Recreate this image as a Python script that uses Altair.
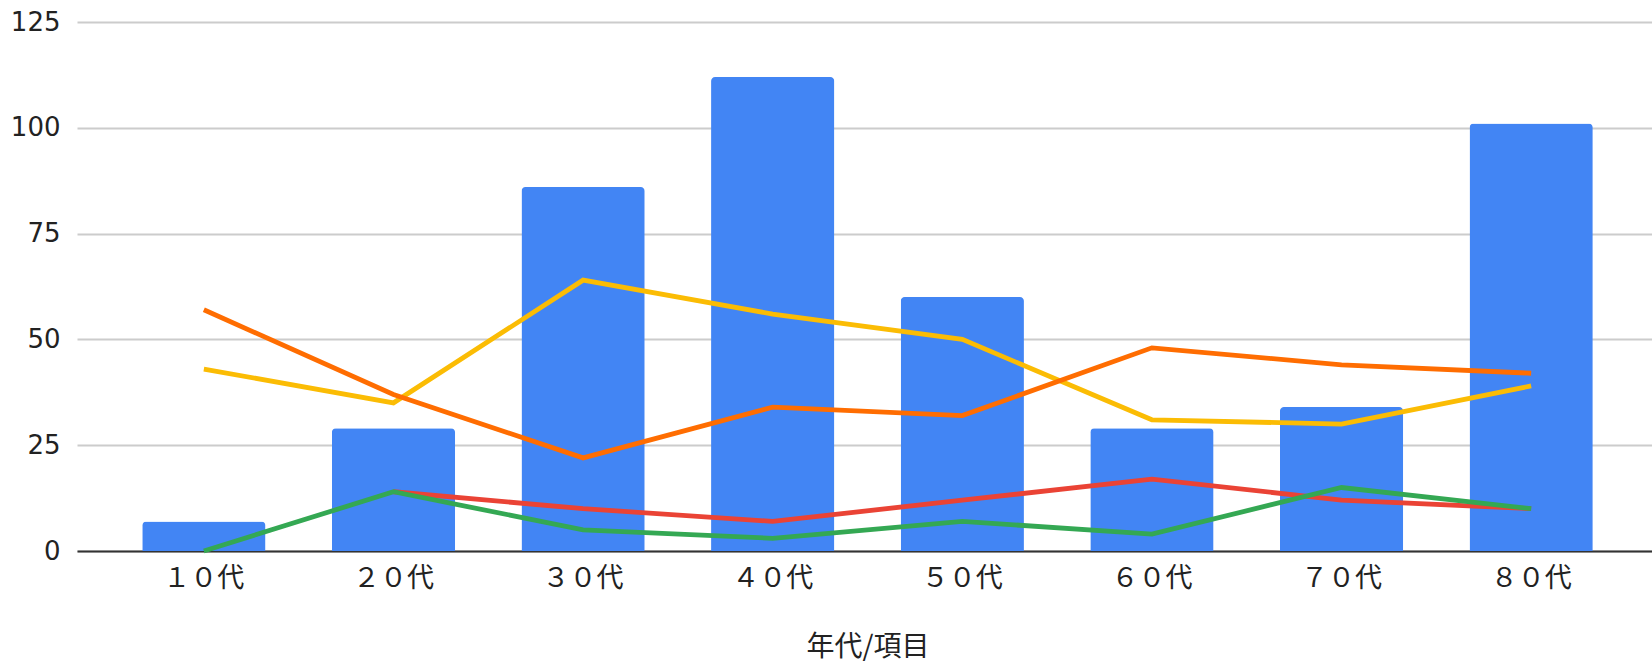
import altair as alt
import pandas as pd

categories = ["１０代", "２０代", "３０代", "４０代", "５０代", "６０代", "７０代", "８０代"]
bar_values = [7, 29, 86, 112, 60, 29, 34, 101]
orange_values = [57, 37, 22, 34, 32, 48, 44, 42]
yellow_values = [43, 35, 64, 56, 50, 31, 30, 39]
red_values = [None, 14, 10, 7, 12, 17, 12, 10]
green_values = [0, 14, 5, 3, 7, 4, 15, 10]

series_names = ["系列A", "系列B", "系列C", "系列D"]
series_values = [yellow_values, orange_values, red_values, green_values]
series_colors = ["#FBBC04", "#FF6D01", "#EA4335", "#34A853"]

bar_df = pd.DataFrame({"age": categories, "value": bar_values})
rows = []
for name, vals in zip(series_names, series_values):
    for c, v in zip(categories, vals):
        rows.append({"age": c, "series": name, "value": v})
line_df = pd.DataFrame(rows)

xscale = alt.Scale(domain=categories, range=[0, 1581], paddingInner=0.35, paddingOuter=0.344)
yscale = alt.Scale(domain=[0, 125])

x_enc = alt.X(
    "age:N", sort=categories, scale=xscale,
    axis=alt.Axis(
        title="年代/項目", labelAngle=0, labelFont="Noto Sans CJK JP", labelFontSize=27,
        labelColor="#222222", labelPadding=14, ticks=False, domainColor="#333333",
        domainWidth=2, titleFont="Noto Sans CJK JP", titleFontSize=28,
        titleFontWeight="normal", titleColor="#222222", titlePadding=42, grid=False,
    ),
)
y_enc = alt.Y(
    "value:Q", scale=yscale,
    axis=alt.Axis(
        title=None, values=[0, 25, 50, 75, 100, 125], labelFont="DejaVu Sans",
        labelFontSize=26, labelColor="#222222", labelPadding=17, ticks=False,
        domain=False, gridColor="#CCCCCC", gridWidth=2,
    ),
)

bars = alt.Chart(bar_df).mark_bar(
    color="#4285F4", cornerRadiusTopLeft=4, cornerRadiusTopRight=4
).encode(x=x_enc, y=y_enc)

layers = [bars]
for name, color in zip(series_names, series_colors):
    layers.append(
        alt.Chart(line_df).transform_filter(alt.datum.series == name)
        .mark_line(color=color, strokeWidth=4.8)
        .encode(x=x_enc, y=y_enc)
    )

chart = alt.layer(*layers).properties(
    width=1575, height=529,
    background="white",
    autosize=alt.AutoSizeParams(type="none"),
    padding={"left": 77, "top": 22, "right": 0, "bottom": 111},
).configure_view(stroke=None)

chart.save("out.html", embed_options={"renderer": "svg", "actions": False})
